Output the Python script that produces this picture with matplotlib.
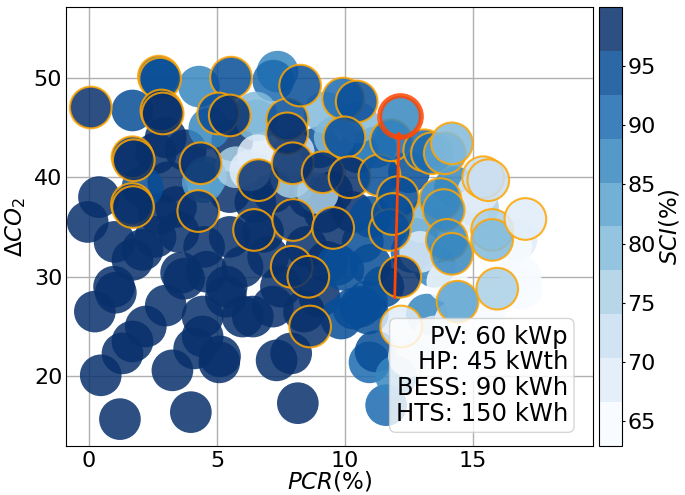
import numpy as np
import matplotlib
matplotlib.use('Agg')
import matplotlib.pyplot as plt

# plain points (no edge): PCR (%), delta CO2, SCI (%)
pcr = [0.23, 0.46, 1.21, 3.98, 3.26, 1.31, 1.70, 2.22, 0.98, 1.05,
       3.0, 3.72, 3.6, 4.44, 4.11, 5.09, 4.44, 5.35, 1.70, 2.09,
       -0.05, 0.39, 8.16, 7.33, 7.9, 6.4, 7.18, 6.0, 5.38, 5.12,
       2.74, 2.61, 3.78, 3.1, 5.6, 2.6, 3.5, 4.5, 5.5, 6.0,
       7.0, 7.5, 8.5, 9.0, 9.3, 9.2, 6.5, 5.5, 7.2, 8.6,
       1.0, 3.4, 4.6, 6.8, 8.4, 9.5, 10.3, 3.0,
       1.7, 2.09, 9.94, 10.9, 10.6, 10.33, 10.86, 9.85, 10.96, 11.61,
       11.2, 10.7, 9.7, 11.0, 11.5, 12.6, 11.0, 10.5, 9.0, 12.5,
       4.3, 4.7, 7.37, 7.2, 4.45, 4.57, 12.8, 13.5, 13.2, 12.0,
       11.2, 14.3,
       5.74, 6.52, 6.55, 9.2, 8.94, 7.9, 9.6, 10.5, 15.2, 13.0,
       6.6, 6.3, 16.86, 16.9, 16.7, 14.0, 12.94, 15.5, 14.3, 13.5,
       12.5, 14.5, 15.5, 16.5, 15.2, 14.8, 8.0]
dco2 = [26.5, 20.1, 15.7, 16.4, 20.6, 22.3, 23.5, 25.0, 29.0, 28.4,
        27.1, 29.8, 30.4, 24.0, 22.8, 21.4, 26.0, 28.0, 31.7, 32.7,
        35.5, 38.0, 17.3, 21.6, 22.3, 26.0, 27.0, 26.0, 29.0, 22.0,
        36.3, 42.4, 42.7, 39.5, 43.7, 34.0, 34.5, 33.0, 34.0, 31.0,
        32.0, 29.0, 33.0, 28.0, 31.5, 36.5, 37.5, 38.5, 38.5, 38.0,
        33.5, 37.0, 30.5, 34.5, 26.5, 38.5, 36.5, 44.0,
        46.7, 39.0, 30.7, 26.3, 27.0, 26.8, 27.5, 25.8, 21.4, 17.1,
        22.5, 33.5, 31.2, 31.2, 29.0, 32.5, 36.0, 42.5, 43.0, 40.5,
        49.1, 44.9, 50.6, 49.7, 39.5, 40.0, 33.8, 31.0, 26.2, 20.0,
        43.0, 39.0,
        41.0, 46.5, 45.7, 46.5, 38.4, 40.0, 44.0, 45.5, 37.0, 35.5,
        42.2, 40.7, 30.0, 28.8, 33.7, 29.5, 32.5, 27.0, 25.5, 24.0,
        22.0, 21.0, 23.0, 33.0, 38.5, 36.5, 42.5]
sci = [99, 99, 100, 99.5, 99, 99, 99, 99, 99, 99,
       99, 99, 99, 99, 99, 99, 99, 99, 99, 99,
       99, 99, 99.5, 99, 99, 99, 99, 99, 99, 99,
       99, 99, 99, 99, 99, 99, 99, 99, 99, 99,
       99, 99, 99, 99, 99, 99, 99, 99, 99, 99,
       99, 99, 99, 99, 99, 98, 98, 99,
       96, 95, 95, 95, 96, 95, 96, 93, 91, 92,
       93, 95, 95, 94, 94, 91, 96, 95, 94, 93,
       88, 88, 88, 89, 84, 85, 88, 86, 88, 87,
       88, 86,
       77, 79, 79, 78, 76, 75, 79, 80, 76, 80,
       70, 68, 64, 66, 67, 66, 70, 65, 66, 68,
       70, 66, 62.9, 65, 68, 70, 72]

# points with orange edge
pcr_m = [0.07, 2.73, 2.78, 2.83, 2.88, 1.70, 1.75, 1.68, 1.72, 4.36,
         4.27, 5.55, 5.05, 5.5, 6.62, 7.75, 7.74, 7.96, 8.25, 9.13,
         6.45, 7.98, 9.54, 9.93, 10.46, 9.98, 10.18, 11.35, 12.07, 11.8,
         11.75, 11.87, 13.1, 13.4, 13.9, 14.18, 13.73, 13.86, 15.4, 15.6,
         15.75, 15.75, 17.05, 13.98, 14.18, 14.4, 15.95, 12.2, 12.16, 7.92,
         8.57, 8.64]
dco2_m = [47.0, 50.1, 49.9, 46.7, 46.4, 42.0, 41.7, 37.3, 37.0, 41.4,
          36.6, 50.0, 46.4, 46.2, 39.7, 45.8, 44.4, 41.4, 49.2, 40.5,
          34.7, 35.7, 34.9, 47.9, 47.6, 44.0, 40.0, 40.2, 38.0, 43.7,
          34.7, 36.3, 42.7, 42.4, 42.4, 43.4, 37.8, 36.7, 40.0, 39.7,
          34.7, 33.7, 35.8, 33.7, 32.3, 27.5, 28.8, 25.0, 30.0, 31.0,
          30.0, 25.0]
sci_m = [99.5, 96, 96, 99, 99, 99, 99, 99, 99, 99,
         99, 96, 96, 99, 98, 96, 99, 98, 96, 98,
         99, 99, 99, 89, 94, 94, 98, 95, 95, 92,
         96, 96, 89, 89, 83, 80, 88, 88, 73, 72,
         77, 81, 69, 88, 88, 83, 77, 70, 99, 99,
         99, 99]

# selected configuration
sel_pcr, sel_dco2, sel_sci = 12.16, 46.1, 87
arrow_from = (11.94, 27.6)
arrow_to = (12.12, 45.0)
config_text = 'PV: 60 kWp\nHP: 45 kWth\nBESS: 90 kWh\nHTS: 150 kWh'

plt.rcParams['font.size'] = 16

fig = plt.figure(figsize=(6.85, 4.95), dpi=100)
ax = fig.add_axes([0.097, 0.099, 0.769, 0.887])
cax = fig.add_axes([0.874, 0.099, 0.034, 0.887])

cmap = plt.get_cmap('Blues', 10)
norm = plt.Normalize(min(sci + sci_m), max(sci + sci_m))

sc = ax.scatter(pcr, dco2, c=sci, cmap=cmap, norm=norm, s=900, alpha=0.85,
                edgecolors='none')
ax.scatter(pcr_m, dco2_m, c=sci_m, cmap=cmap, norm=norm, s=900, alpha=0.85,
           edgecolors='orange', linewidths=1.5)
ax.scatter([sel_pcr], [sel_dco2], c=[sel_sci], cmap=cmap, norm=norm, s=900,
           alpha=0.85, edgecolors='orangered', linewidths=3.6, zorder=3)
ax.annotate('', xy=arrow_to, xytext=arrow_from,
            arrowprops=dict(arrowstyle='-|>', color='orangered', lw=2,
                            mutation_scale=8), zorder=4)

ax.text(0.952, 0.045, config_text, transform=ax.transAxes, ha='right',
        va='bottom', multialignment='right', zorder=5, fontsize=17.5,
        linespacing=1.1,
        bbox=dict(boxstyle='round,pad=0.25', facecolor='white',
                  edgecolor='0.8', alpha=0.8))

ax.set_xlim(-0.88, 19.7)
ax.set_ylim(13.0, 57.1)
ax.set_xticks([0, 5, 10, 15])
ax.set_yticks([20, 30, 40, 50])
ax.set_axisbelow(True)
ax.grid(True, color='#b0b0b0', lw=1)
ax.tick_params(axis='x', length=0, pad=3.5)
ax.tick_params(axis='y', length=0, pad=3)
ax.set_xlabel('$PCR(\\%)$', labelpad=-1, fontsize=16.5)
ax.set_ylabel('$\\Delta CO_2$', fontsize=16.5)

cb = fig.colorbar(sc, cax=cax)
cb.set_ticks([65, 70, 75, 80, 85, 90, 95])
cb.ax.tick_params(length=2, pad=2)
cb.set_label('$SCI(\\%)$', fontsize=16.5, labelpad=1)

fig.savefig('out.png', dpi=100)
